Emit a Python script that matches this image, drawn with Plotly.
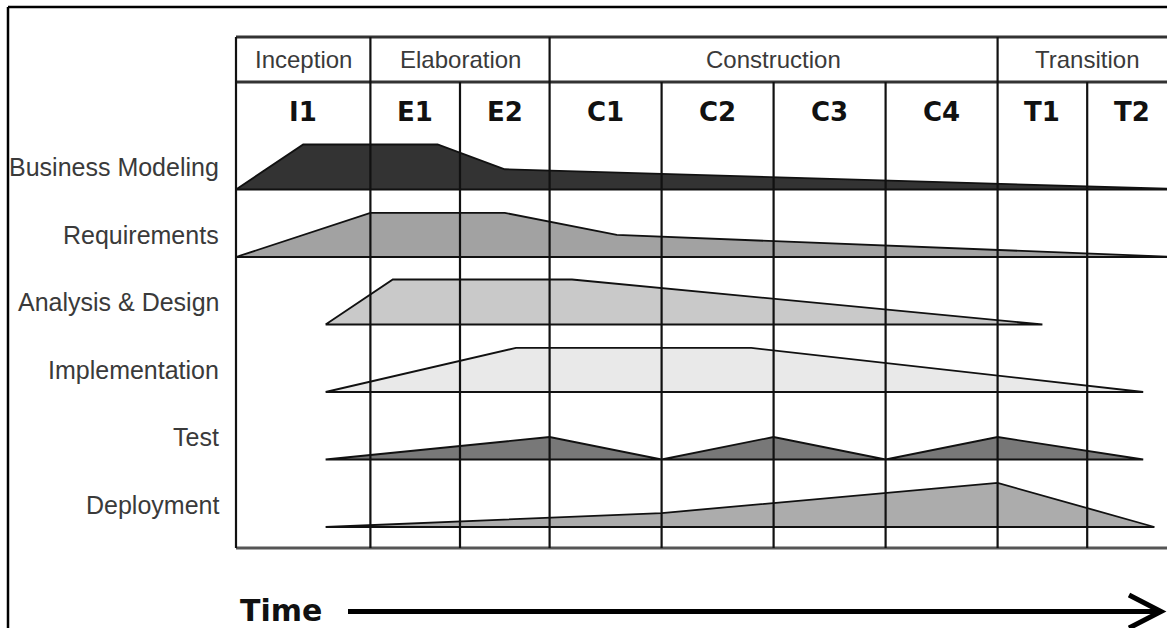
import plotly.graph_objects as go

# ---------------- data ----------------
iterations = ["I1", "E1", "E2", "C1", "C2", "C3", "C4", "T1", "T2"]
iteration_weeks = [6, 4, 4, 5, 5, 5, 5, 4, 4]
phases = ["Inception", "Elaboration", "Construction", "Transition"]
phase_iteration_counts = [1, 2, 4, 2]
disciplines = ["Business Modeling", "Requirements", "Analysis & Design",
               "Implementation", "Test", "Deployment"]

bm_weeks = [0, 3, 9, 12, 42]
bm_effort = [0, 100, 100, 45, 1]
req_weeks = [0, 6, 12, 17, 42]
req_effort = [0, 98, 98, 49, 0]
ad_weeks = [4, 7, 15, 36]
ad_effort = [0, 100, 100, 0]
impl_weeks = [4, 12.5, 23, 40.5]
impl_effort = [0, 98, 98, 0]
test_weeks = [4, 14, 19, 24, 29, 34, 40.5]
test_effort = [0, 50, 0, 50, 0, 50, 0]
dep_weeks = [4, 19, 34, 41]
dep_effort = [0, 31, 98, 0]

fill_colors = ["#333333", "#a2a2a2", "#c9c9c9", "#e9e9e9", "#787878", "#acacac"]

# ---------------- layout helpers ----------------
W, H = 1167, 628
PX_PER_WEEK = 22.4
TABLE_LEFT_PX = 236
ROW_PX = 67.5
LAST_BASE_PX = 527
EFFORT_SCALE = 45 / ROW_PX / 100


def wx(px):
    return (px - TABLE_LEFT_PX) / PX_PER_WEEK


def ry(py):
    return (LAST_BASE_PX - py) / ROW_PX


series = [(bm_weeks, bm_effort), (req_weeks, req_effort), (ad_weeks, ad_effort),
          (impl_weeks, impl_effort), (test_weeks, test_effort), (dep_weeks, dep_effort)]

fig = go.Figure()
n = len(disciplines)
for i, (name, (wk, ef)) in enumerate(zip(disciplines, series)):
    base = n - 1 - i
    xs = list(wk) + [wk[-1], wk[0]]
    ys = [base + e * EFFORT_SCALE for e in ef] + [base, base]
    fig.add_trace(go.Scatter(x=xs, y=ys, mode="lines", fill="toself",
                             fillcolor=fill_colors[i],
                             line=dict(color="#111111", width=1.8),
                             name=name, hoverinfo="skip", showlegend=False))

# cumulative boundaries
cum = [0]
for w in iteration_weeks:
    cum.append(cum[-1] + w)
phase_idx = [0]
for c in phase_iteration_counts:
    phase_idx.append(phase_idx[-1] + c)
phase_bounds = [cum[k] for k in phase_idx]

shapes = []
TOP, PH_BOT, BOT = ry(37), ry(82), ry(548)
# outer frame
shapes.append(dict(type="line", x0=wx(8), x1=wx(8), y0=ry(7), y1=ry(700),
                   line=dict(color="#000", width=2.5)))
shapes.append(dict(type="line", x0=wx(8), x1=wx(1300), y0=ry(7), y1=ry(7),
                   line=dict(color="#000", width=2.5)))
# table horizontals
for yy, col, wdt in [(TOP, "#333", 3), (PH_BOT, "#333", 3), (BOT, "#555", 3)]:
    shapes.append(dict(type="line", x0=0, x1=cum[-1], y0=yy, y1=yy,
                       line=dict(color=col, width=wdt), layer="above"))
# left border
shapes.append(dict(type="line", x0=0, x1=0, y0=TOP, y1=BOT,
                   line=dict(color="#111", width=2.2), layer="above"))
# phase dividers
for b in phase_bounds[1:]:
    shapes.append(dict(type="line", x0=b, x1=b, y0=TOP, y1=BOT,
                       line=dict(color="#111", width=2.2), layer="above"))
# iteration dividers
for b in cum[1:]:
    if b in phase_bounds:
        continue
    shapes.append(dict(type="line", x0=b, x1=b, y0=PH_BOT, y1=BOT,
                       line=dict(color="#111", width=2.2), layer="above"))
# time arrow
shapes.append(dict(type="line", x0=wx(348), x1=wx(1156), y0=ry(611.5), y1=ry(611.5),
                   line=dict(color="#000", width=5)))
path = "M {} {} L {} {} L {} {}".format(wx(1129), ry(595), wx(1161), ry(611.5),
                                        wx(1129), ry(628))
shapes.append(dict(type="path", path=path, line=dict(color="#000", width=5)))

ann = []
label_font = dict(family="Liberation Sans, Arial, sans-serif", size=24, color="#3a3a3a")
for k, p in enumerate(phases):
    c = (phase_bounds[k] + phase_bounds[k + 1]) / 2
    ann.append(dict(x=c, y=ry(59), text=p, showarrow=False, font=label_font,
                    xanchor="center", yanchor="middle"))
for k, it in enumerate(iterations):
    c = (cum[k] + cum[k + 1]) / 2
    ann.append(dict(x=c, y=ry(112), text="<b>" + it + "</b>", showarrow=False,
                    font=dict(family="DejaVu Sans, Verdana, sans-serif", size=26, color="#111"),
                    xanchor="center", yanchor="middle"))
for i, name in enumerate(disciplines):
    base = n - 1 - i
    ann.append(dict(x=wx(221), y=base + 0.33, text=name, showarrow=False,
                    font=dict(family="Liberation Sans, Arial, sans-serif", size=25, color="#3a3a3a"),
                    xanchor="right", yanchor="middle"))
ann.append(dict(x=wx(281), y=ry(610), text="<b>Time</b>", showarrow=False,
                font=dict(family="DejaVu Sans, Verdana, sans-serif", size=30, color="#111"),
                xanchor="center", yanchor="middle"))

fig.update_layout(
    width=W, height=H, autosize=False,
    margin=dict(l=0, r=0, t=0, b=0, pad=0),
    paper_bgcolor="white", plot_bgcolor="white",
    xaxis=dict(range=[wx(0), wx(W)], visible=False, fixedrange=True),
    yaxis=dict(range=[ry(H), ry(0)], visible=False, fixedrange=True),
    shapes=shapes, annotations=ann, showlegend=False,
)

fig.write_html("out.html", config={"displayModeBar": False, "staticPlot": True},
               post_script="document.body.style.margin='0';document.body.style.overflow='hidden';")
